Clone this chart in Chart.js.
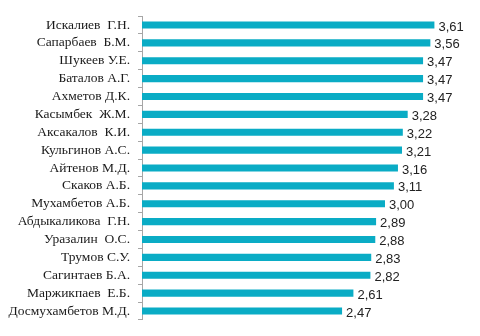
<!DOCTYPE html>
<html>
<head>
<meta charset="utf-8">
<script src="https://cdn.jsdelivr.net/npm/chart.js@4"></script>
<style>
  html, body { margin: 0; padding: 0; background: #fff; }
  canvas { display: block; }
</style>
</head>
<body>
<canvas id="grafico" width="480" height="336"></canvas>
<script>
const nombres = [
    "Искалиев  Г.Н.", "Сапарбаев  Б.М.", "Шукеев У.Е.", "Баталов А.Г.", "Ахметов Д.К.",
    "Касымбек  Ж.М.", "Аксакалов  К.И.", "Кульгинов А.С.", "Айтенов М.Д.", "Скаков А.Б.",
    "Мухамбетов А.Б.", "Абдыкаликова  Г.Н.", "Уразалин  О.С.", "Трумов С.У.", "Сагинтаев Б.А.",
    "Маржикпаев  Е.Б.", "Досмухамбетов М.Д."
];
const valores = [3.61, 3.56, 3.47, 3.47, 3.47, 3.28, 3.22, 3.21, 3.16, 3.11, 3.00, 2.89, 2.88, 2.83, 2.82, 2.61, 2.47];

// etiquetas de valor al final de cada barra
const etiquetasValor = {
    id: "etiquetasValor",
    afterDatasetsDraw(chart) {
        const ctx = chart.ctx;
        const meta = chart.getDatasetMeta(0);
        ctx.save();
        ctx.font = "13px 'Liberation Sans', Arial, sans-serif";
        ctx.fillStyle = "#222";
        ctx.textAlign = "left";
        ctx.textBaseline = "middle";
        meta.data.forEach((barra, i) => {
            const texto = valores[i].toFixed(2).replace(".", ",");
            ctx.fillText(texto, barra.x + 4, barra.y + 2);
        });
        ctx.restore();
    }
};

const ctx = document.getElementById("grafico").getContext("2d");
new Chart(ctx, {
    type: "bar",
    data: {
        labels: nombres,
        datasets: [{
            data: valores,
            backgroundColor: "#0aacc5",
            barPercentage: 0.4,
            categoryPercentage: 1
        }]
    },
    options: {
        indexAxis: "y",
        responsive: false,
        animation: false,
        layout: { padding: { top: 14, bottom: 15, right: 14, left: 0 } },
        plugins: {
            legend: { display: false },
            tooltip: { enabled: false }
        },
        scales: {
            x: {
                display: false,
                min: 0,
                max: 4
            },
            y: {
                afterFit: (eje) => { eje.width = 142; },
                grid: {
                    drawOnChartArea: false,
                    drawTicks: true,
                    tickLength: 4,
                    color: "#a6a6a6"
                },
                border: { color: "#a6a6a6", width: 1 },
                ticks: {
                    autoSkip: false,
                    padding: 8,
                    color: "#1a1a1a",
                    font: { family: "'Liberation Serif', 'DejaVu Serif', serif", size: 13.5 }
                }
            }
        }
    },
    plugins: [etiquetasValor]
});
</script>
</body>
</html>
